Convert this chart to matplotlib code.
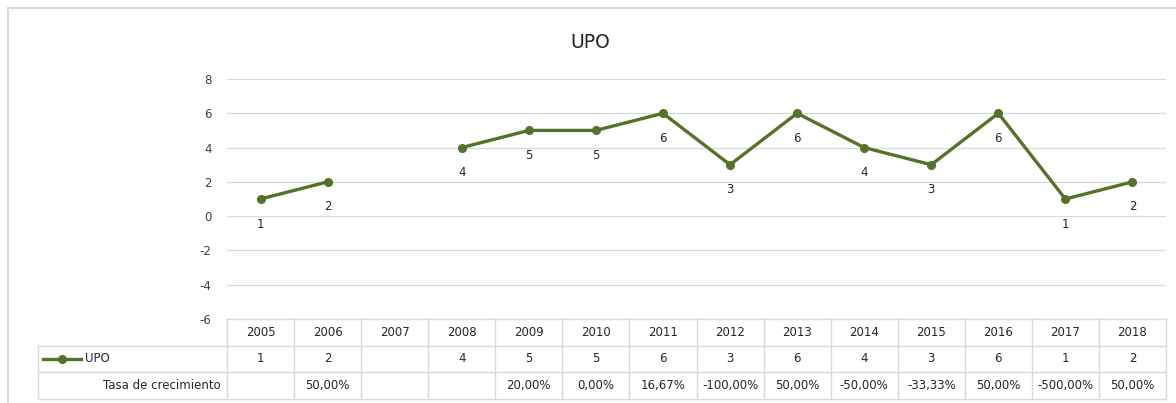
import numpy as np
import matplotlib
matplotlib.use("Agg")
import matplotlib.pyplot as plt
from matplotlib.lines import Line2D

# data
years = ["2005", "2006", "2007", "2008", "2009", "2010", "2011",
         "2012", "2013", "2014", "2015", "2016", "2017", "2018"]
upo = [1, 2, None, 4, 5, 5, 6, 3, 6, 4, 3, 6, 1, 2]
tasa = ["", "50,00%", "", "", "20,00%", "0,00%", "16,67%", "-100,00%",
        "50,00%", "-50,00%", "-33,33%", "50,00%", "-500,00%", "50,00%"]
yticks = [-6, -4, -2, 0, 2, 4, 6, 8]

green = "#56722a"
grid = "#d9d9d9"
txt = "#262626"
fs = 8.5

W, H = 1176, 403
fig = plt.figure(figsize=(W / 100, H / 100), dpi=100)

# plot area in pixel coords
L, R, T, B = 227, 1166, 79, 319
ax = fig.add_axes([L / W, 1 - B / H, (R - L) / W, (B - T) / H])

x = np.arange(len(years))
y = np.array([np.nan if v is None else v for v in upo], dtype=float)
ax.plot(x, y, color=green, lw=2.4, marker="o", ms=5.5, zorder=3)
for xi, v in zip(x, upo):
    if v is None:
        continue
    ax.annotate(str(v), (xi, v), xytext=(0, -18), textcoords="offset points",
                ha="center", va="center", fontsize=fs, color=txt)

ax.set_xlim(-0.5, len(years) - 0.5)
ax.set_ylim(-6, 8)
ax.set_yticks(yticks)
ax.set_yticklabels([str(t) for t in yticks], fontsize=fs, color="#404040")
ax.tick_params(axis="y", length=0, pad=11)
ax.set_xticks([])
ax.grid(axis="y", color=grid, lw=0.9)
ax.set_axisbelow(True)
for s in ax.spines.values():
    s.set_visible(False)

# table below the axes, in axes fraction
def ay(py):
    return (B - py) / (B - T)

def ax_x(px):
    return (px - L) / (R - L)

rows = [319, 346, 372, 399]
n = len(years)
leg_left = ax_x(38)
kw = dict(transform=ax.transAxes, clip_on=False, color=grid, lw=1)

# horizontal lines
ax.add_line(Line2D([0, 1], [ay(rows[0])] * 2, **kw))
for py in rows[1:]:
    ax.add_line(Line2D([leg_left, 1], [ay(py)] * 2, **kw))
# vertical lines
for i in range(n + 1):
    ax.add_line(Line2D([i / n] * 2, [ay(rows[0]), ay(rows[3])], **kw))
ax.add_line(Line2D([leg_left] * 2, [ay(rows[1]), ay(rows[3])], **kw))

tk = dict(transform=ax.transAxes, ha="center", va="center", fontsize=fs,
          color=txt, clip_on=False)
for i, yr in enumerate(years):
    cx = (i + 0.5) / n
    ax.text(cx, ay((rows[0] + rows[1]) / 2), yr, **tk)
    ax.text(cx, ay((rows[1] + rows[2]) / 2), "" if upo[i] is None else str(upo[i]), **tk)
    ax.text(cx, ay((rows[2] + rows[3]) / 2), tasa[i], **tk)

# legend key inside table
ly = ay((rows[1] + rows[2]) / 2)
ax.add_line(Line2D([ax_x(43), ax_x(81)], [ly, ly], transform=ax.transAxes,
                   clip_on=False, color=green, lw=2.4))
ax.add_line(Line2D([ax_x(62)], [ly], transform=ax.transAxes, clip_on=False,
                   color=green, marker="o", ms=5.5))
ax.text(ax_x(85), ly, "UPO", transform=ax.transAxes, ha="left", va="center",
        fontsize=fs, color=txt, clip_on=False)
ax.text(ax_x(221), ay((rows[2] + rows[3]) / 2), "Tasa de crecimiento",
        transform=ax.transAxes, ha="right", va="center", fontsize=fs,
        color=txt, clip_on=False)

# title
fig.text(590 / W, 1 - 42 / H, "UPO", ha="center", va="center", fontsize=13.5,
         color=txt)

# outer chart frame
fig.add_artist(Line2D([8 / W, 1], [1 - 8 / H] * 2, transform=fig.transFigure,
                      color=grid, lw=1.5))
fig.add_artist(Line2D([8 / W] * 2, [0, 1 - 8 / H], transform=fig.transFigure,
                      color=grid, lw=1.5))

fig.savefig("out.png", dpi=100)
